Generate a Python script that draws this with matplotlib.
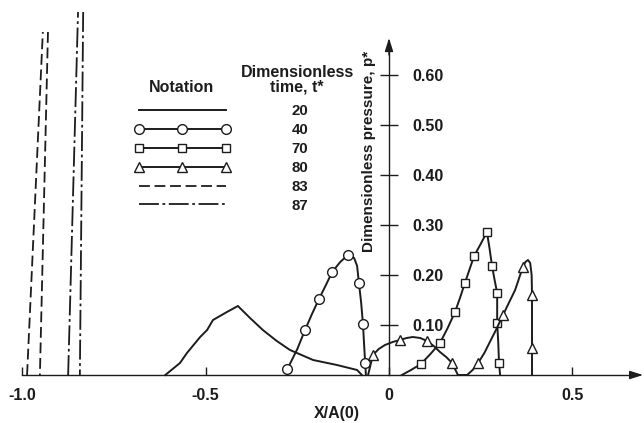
import numpy as np
import matplotlib
matplotlib.use("Agg")
from matplotlib import pyplot as plt
from matplotlib.lines import Line2D

# ---- data ----
# t* = 20 (solid)
t20_x = [-0.610, -0.570, -0.551, -0.515, -0.496, -0.480, -0.442, -0.412, -0.379, -0.344,
         -0.306, -0.270, -0.207, -0.142, -0.087, -0.074]
t20_p = [0.000, 0.024, 0.044, 0.076, 0.090, 0.110, 0.126, 0.138, 0.114, 0.090,
         0.068, 0.050, 0.030, 0.020, 0.010, 0.000]

# t* = 40 (circles)
t40_x = [-0.277, -0.250, -0.229, -0.210, -0.191, -0.172, -0.155, -0.133, -0.112, -0.095,
         -0.087, -0.082, -0.076, -0.071, -0.068, -0.065, -0.063]
t40_p = [0.012, 0.052, 0.090, 0.122, 0.152, 0.180, 0.206, 0.226, 0.240, 0.234,
         0.218, 0.184, 0.145, 0.102, 0.062, 0.024, 0.000]
t40_marks = [0, 2, 4, 6, 8, 11, 13, 15]

# t* = 70 (squares)
t70_x = [0.035, 0.060, 0.087, 0.113, 0.139, 0.160, 0.180, 0.194, 0.207, 0.220,
         0.232, 0.250, 0.267, 0.274, 0.281, 0.288, 0.295, 0.295, 0.298, 0.300, 0.303]
t70_p = [0.000, 0.010, 0.022, 0.042, 0.064, 0.094, 0.126, 0.155, 0.184, 0.212,
         0.238, 0.262, 0.286, 0.254, 0.218, 0.190, 0.164, 0.104, 0.064, 0.024, 0.000]
t70_marks = [2, 4, 6, 8, 10, 12, 14, 16, 17, 19]

# t* = 80 (triangles)
t80_x = [-0.057, -0.044, -0.028, -0.011, 0.010, 0.030, 0.048, 0.065, 0.085, 0.104,
         0.122, 0.139, 0.156, 0.172, 0.188, 0.213, 0.228, 0.243, 0.260, 0.275,
         0.293, 0.311, 0.328, 0.344, 0.365, 0.372, 0.379, 0.385, 0.389, 0.390,
         0.390, 0.390]
t80_p = [0.000, 0.040, 0.052, 0.060, 0.066, 0.070, 0.074, 0.076, 0.074, 0.068,
         0.058, 0.046, 0.036, 0.024, 0.000, 0.000, 0.010, 0.024, 0.044, 0.066,
         0.092, 0.120, 0.146, 0.170, 0.216, 0.226, 0.230, 0.224, 0.200, 0.160,
         0.054, 0.000]
t80_marks = [1, 5, 9, 13, 17, 21, 24, 29, 30]

# t* = 83 (dashed) and 87 (dash-dot): spikes running off the top
t83_x = [-0.987, -0.944, np.nan, -0.930, -0.952]
t83_p = [0.000, 0.686, np.nan, 0.686, 0.000]
t87_x = [-0.875, -0.848, np.nan, -0.834, -0.843]
t87_p = [0.000, 0.726, np.nan, 0.726, 0.000]

times = ["20", "40", "70", "80", "83", "87"]
x_ticks = [-1.0, -0.5, 0.0, 0.5]
x_tick_labels = ["-1.0", "-0.5", "0", "0.5"]
p_ticks = [0.1, 0.2, 0.3, 0.4, 0.5, 0.6]
p_tick_labels = ["0.10", "0.20", "0.30", "0.40", "0.50", "0.60"]

INK = "#1c1c1c"
LW = 1.4
DASH = (0, (6, 2.6))
DASHDOT = (0, (11, 2, 1.5, 2))


def main():
    plt.rcParams["font.family"] = ["Liberation Sans", "DejaVu Sans"]
    plt.rcParams["font.weight"] = "bold"
    plt.rcParams["text.color"] = INK

    fig = plt.figure(figsize=(6.44, 4.23), dpi=100)
    ax = fig.add_axes([0, 0, 1, 1])
    ax.set_xlim(-389 / 366.7, 255 / 366.7)
    ax.set_ylim(-48 / 500, 375 / 500)

    mk = dict(markerfacecolor="white", markeredgecolor=INK, markeredgewidth=1.0)

    ax.plot(t20_x, t20_p, color=INK, lw=LW)
    ax.plot(t40_x, t40_p, color=INK, lw=LW, marker="o", ms=7, markevery=t40_marks, **mk)
    ax.plot(t70_x, t70_p, color=INK, lw=LW, marker="s", ms=6.3, markevery=t70_marks, **mk)
    ax.plot(t80_x, t80_p, color=INK, lw=LW, marker="^", ms=7, markevery=t80_marks, **mk)
    ax.plot(t83_x, t83_p, color=INK, lw=1.3, linestyle=DASH)
    ax.plot(t87_x, t87_p, color=INK, lw=1.3, linestyle=DASHDOT)

    # axes through the origin
    ax.spines["left"].set_visible(False)
    ax.spines["top"].set_visible(False)
    ax.spines["right"].set_position(("data", 0))
    ax.spines["bottom"].set_position(("data", 0))
    ax.spines["right"].set_bounds(0, 0.66)
    ax.spines["bottom"].set_bounds(-1.0, 0.67)
    for s in ("right", "bottom"):
        ax.spines[s].set_color(INK)
        ax.spines[s].set_linewidth(1.0)
    ax.yaxis.set_ticks_position("right")
    ax.xaxis.set_ticks_position("bottom")
    ax.set_yticks(p_ticks, labels=p_tick_labels)
    ax.set_xticks(x_ticks, labels=x_tick_labels)
    ax.tick_params(axis="y", direction="inout", length=13, width=1.0, pad=10,
                   labelsize=11.5, colors=INK)
    ax.tick_params(axis="x", direction="in", length=6, width=1.0, pad=9,
                   labelsize=11.5, colors=INK)
    ax.patch.set_visible(False)

    arrow = dict(arrowstyle="-|>,head_length=0.8,head_width=0.25", color=INK, lw=1.0,
                 mutation_scale=10, shrinkA=0, shrinkB=0)
    ax.annotate("", xy=(0, 0.674), xytext=(0, 0.64), arrowprops=arrow)
    ax.annotate("", xy=(0.693, 0), xytext=(0.66, 0), arrowprops=arrow)

    # legend
    handles = [
        Line2D([], [], color=INK, lw=LW),
        Line2D([], [], color=INK, lw=LW, marker="o", ms=7, **mk),
        Line2D([], [], color=INK, lw=LW, marker="s", ms=6.3, **mk),
        Line2D([], [], color=INK, lw=LW, marker="^", ms=7, **mk),
        Line2D([], [], color=INK, lw=1.3, linestyle=DASH),
        Line2D([], [], color=INK, lw=1.3, linestyle=DASHDOT),
    ]
    ax.legend(handles, times, loc="upper left", bbox_to_anchor=(134 / 644, 1 - 104 / 423),
              bbox_transform=fig.transFigure, frameon=False, numpoints=3,
              handlelength=6.4, handletextpad=4.1, labelspacing=0.33, borderpad=0,
              borderaxespad=0, prop=dict(size=10.8, weight="bold"))

    fig.text(182 / 644, 1 - 87 / 423, "Notation", ha="center", va="center", fontsize=11.5)
    fig.text(297 / 644, 1 - 80 / 423, "Dimensionless\ntime, t*", ha="center", va="center",
             fontsize=11.5, linespacing=0.95)
    fig.text(369 / 644, 1 - 151 / 423, "Dimensionless pressure, p*", rotation=90,
             ha="center", va="center", fontsize=11)
    fig.text(337 / 644, 1 - 413 / 423, "X/A(0)", ha="center", va="center", fontsize=11.5)

    fig.savefig("out.png", dpi=100)


if __name__ == "__main__":
    main()
